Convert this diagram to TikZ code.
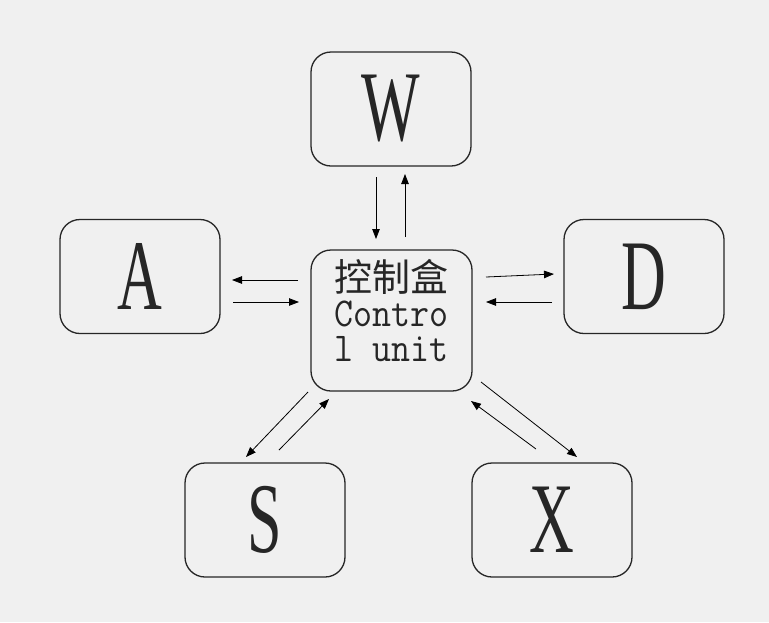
\documentclass[tikz,border=0pt]{standalone}
\usepackage{fontspec}
\usetikzlibrary{arrows.meta}
\newfontfamily\cjk{Noto Sans CJK SC}
\newfontfamily\narrowserif[FakeStretch=0.62]{Liberation Serif}
\definecolor{bg}{HTML}{F0F0F0}
\definecolor{ink}{HTML}{262626}
\begin{document}
\begin{tikzpicture}[x=1pt,y=-1pt,
  keybox/.style={draw=ink,line width=1.3pt,rounded corners=20pt,fill=bg,minimum width=160pt,minimum height=114pt,inner sep=0pt},
  bigletter/.style={font=\fontsize{100}{100}\narrowserif,text=ink,inner sep=0pt},
  conn/.style={draw=black,line width=0.8pt,-{Triangle[length=10pt,width=7.5pt]}}]
\fill[bg] (0,0) rectangle (769,622);
\useasboundingbox (0,0) rectangle (769,622);
% boxes
\node[keybox] (W) at (391,109) {};
\node[keybox] (A) at (140,276.5) {};
\node[keybox] (D) at (644,276.5) {};
\node[keybox] (S) at (265,520) {};
\node[keybox] (X) at (552,520) {};
\node[keybox,minimum width=161pt,minimum height=141pt] (C) at (391.5,320.5) {};
% letters
\node[bigletter] (Wl) at (W.center) {W};
\node[bigletter] (Al) at (A.center) {A};
\node[bigletter] (Dl) at (D.center) {D};
\node[bigletter] (Sl) at (S.center) {S};
\node[bigletter] (Xl) at (X.center) {X};
% control unit text
\node[font=\fontsize{41}{35}\ttfamily,text=ink,inner sep=0pt,align=center] (Ct) at (391.5,311)
  {{\fontsize{38}{35}\cjk 控制盒}\\\scalebox{0.9}[1]{Contro}\\\scalebox{0.9}[1]{l unit}};
% arrow end points
\coordinate (w1s) at (376,177); \coordinate (w1e) at (376,239);
\coordinate (w2s) at (405,237); \coordinate (w2e) at (405,174);
\coordinate (a1s) at (298,280); \coordinate (a1e) at (232,280);
\coordinate (a2s) at (233,302); \coordinate (a2e) at (299,302);
\coordinate (d1s) at (486,277); \coordinate (d1e) at (554,274);
\coordinate (d2s) at (552,302); \coordinate (d2e) at (486,302);
\coordinate (s1s) at (308,392); \coordinate (s1e) at (246,457);
\coordinate (s2s) at (279,450); \coordinate (s2e) at (329,399);
\coordinate (x1s) at (481,382); \coordinate (x1e) at (577,457);
\coordinate (x2s) at (536,449); \coordinate (x2e) at (471,401);
% connectors
\draw[conn] (w1s) -- (w1e);
\draw[conn] (w2s) -- (w2e);
\draw[conn] (a1s) -- (a1e);
\draw[conn] (a2s) -- (a2e);
\draw[conn] (d1s) -- (d1e);
\draw[conn] (d2s) -- (d2e);
\draw[conn] (s1s) -- (s1e);
\draw[conn] (s2s) -- (s2e);
\draw[conn] (x1s) -- (x1e);
\draw[conn] (x2s) -- (x2e);
\end{tikzpicture}
\end{document}
